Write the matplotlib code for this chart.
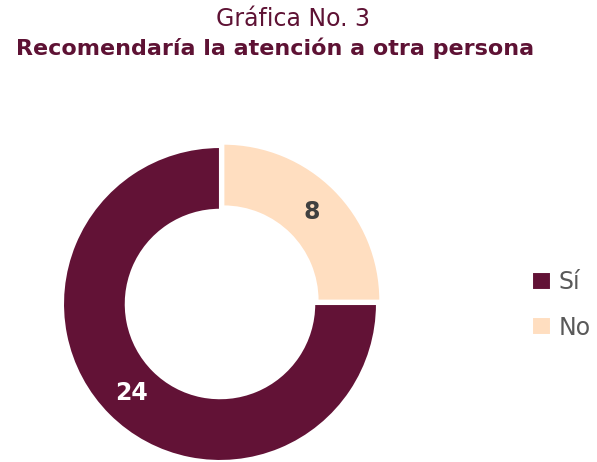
import numpy as np
import matplotlib.pyplot as plt

categories = ["Sí", "No"]
values = [24, 8]
colors = ["#621236", "#FFDEC0"]

fig = plt.figure(figsize=(5.97, 4.62), dpi=100)
ax = fig.add_axes([0.1055, 0.002, 0.526, 0.68])

wedges, texts = ax.pie(
    values,
    colors=colors,
    startangle=0,
    counterclock=False,
    explode=[0, 0.03],
    wedgeprops=dict(width=0.4, edgecolor="white", linewidth=1.5),
    radius=1,
)
for w, v, c in zip(wedges, values, ["white", "#404040"]):
    ang = np.deg2rad((w.theta1 + w.theta2) / 2)
    cx, cy = w.center
    ax.text(cx + 0.8 * np.cos(ang), cy + 0.8 * np.sin(ang), str(v),
            ha="center", va="center", fontsize=17, fontweight="bold", color=c)

ax.set_xlim(-1, 1)
ax.set_ylim(-1, 1)
for w in wedges:
    w.set_clip_on(False)

fig.text(0.49, 0.958, "Gráfica No. 3", ha="center", va="center",
         fontsize=17, color="#5E1234")
fig.text(0.46, 0.895, "Recomendaría la atención a otra persona", ha="center",
         va="center", fontsize=16, fontweight="bold", color="#5E1234")

fig.legend(wedges, categories, loc="center left", bbox_to_anchor=(0.856, 0.34),
           frameon=False, fontsize=17, labelcolor="#595959",
           handlelength=0.8, handleheight=0.8, handletextpad=0.3,
           labelspacing=0.9)

fig.savefig("out.png", dpi=100)
